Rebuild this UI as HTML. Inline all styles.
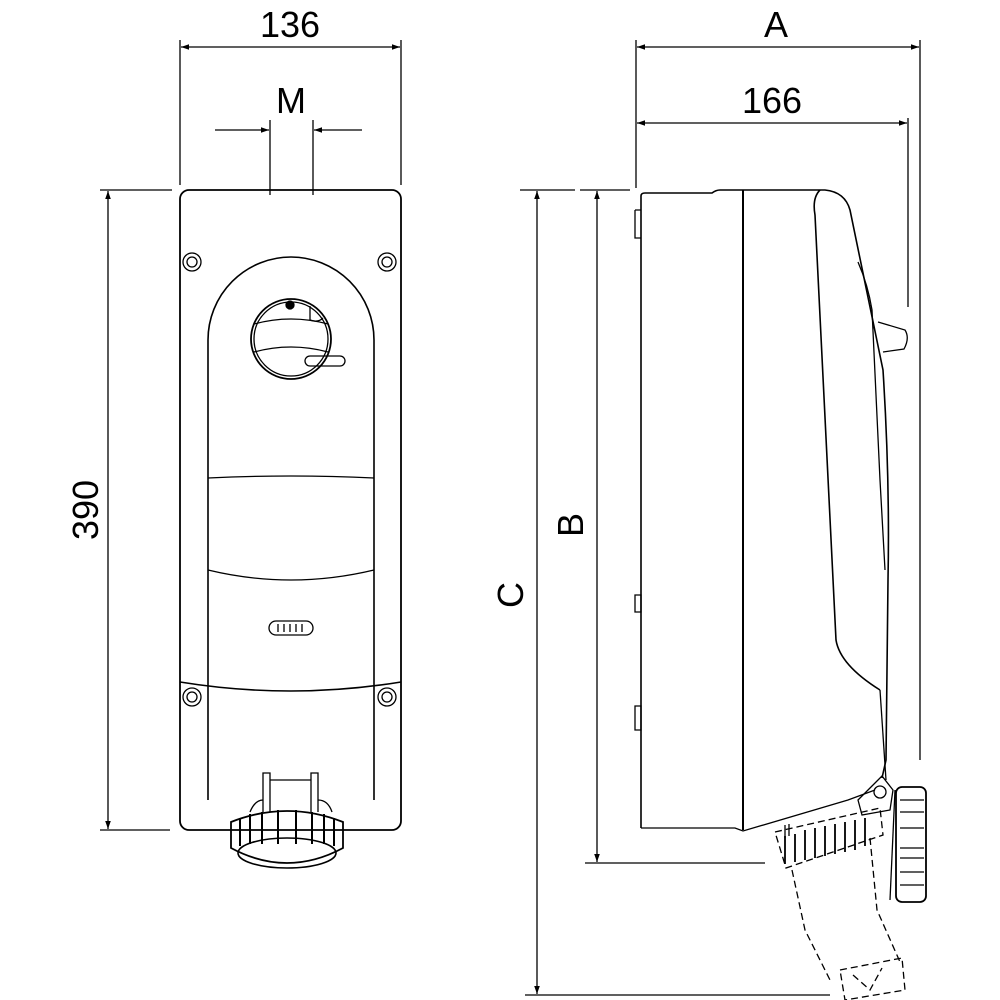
<!DOCTYPE html>
<html><head><meta charset="utf-8"><style>html,body{margin:0;padding:0;background:#fff}svg{display:block}</style></head>
<body>
<svg width="1000" height="1000" viewBox="0 0 1000 1000" xmlns="http://www.w3.org/2000/svg">
<defs>
<marker id="ar" viewBox="0 0 10 10" refX="10" refY="5" markerWidth="10" markerHeight="8" orient="auto-start-reverse" markerUnits="userSpaceOnUse"><path d="M0,1.5 L10,5 L0,8.5 z" fill="#000"/></marker>
</defs>
<g fill="none" stroke="#000" stroke-width="1.3">
<!-- Front view dims -->
<line x1="180" y1="40" x2="180" y2="185"/>
<line x1="401" y1="40" x2="401" y2="185"/>
<line x1="181" y1="47" x2="400" y2="47" marker-start="url(#ar)" marker-end="url(#ar)"/>
<line x1="270" y1="120" x2="270" y2="195"/>
<line x1="313" y1="120" x2="313" y2="195"/>
<line x1="215" y1="130" x2="269" y2="130" marker-end="url(#ar)"/>
<line x1="362" y1="130" x2="314" y2="130" marker-end="url(#ar)"/>
<line x1="100" y1="190" x2="172" y2="190"/>
<line x1="100" y1="830" x2="170" y2="830"/>
<line x1="108" y1="191" x2="108" y2="829" marker-start="url(#ar)" marker-end="url(#ar)"/>
<!-- front plate -->
<rect x="180" y="190" width="221" height="640" rx="9" stroke-width="1.8"/>
<path d="M208,800 L208,340 A83,83 0 0 1 374,340 L374,800" stroke-width="1.6"/>
<path d="M208,478 Q291,474 374,478"/>
<path d="M208,570 Q291,590 374,570"/>
<path d="M180,682 Q291,700 401,682" stroke-width="1.6"/>
<circle cx="192" cy="262" r="9"/><circle cx="192" cy="262" r="5"/>
<circle cx="387" cy="262" r="9"/><circle cx="387" cy="262" r="5"/>
<circle cx="192" cy="697" r="9"/><circle cx="192" cy="697" r="5"/>
<circle cx="387" cy="697" r="9"/><circle cx="387" cy="697" r="5"/>
<!-- knob -->
<circle cx="291" cy="339" r="40" stroke-width="1.8"/>
<circle cx="291" cy="339" r="37"/>
<path d="M254,324 Q291,314 328,324"/>
<path d="M254,352 Q291,342 328,352"/>
<circle cx="290" cy="305" r="4" fill="#000"/>
<path d="M310,306 L310,320 Q318,323 323,318"/>
<rect x="305" y="356" width="40" height="10" rx="5"/>
<!-- indicator -->
<rect x="269" y="621" width="44" height="14" rx="7"/>
<path d="M278,624v8M284,624v8M290,624v8M296,624v8M302,624v8"/>
<!-- socket front -->
<path d="M263,812 L263,773 L270,773 L270,812 M311,812 L311,773 L318,773 L318,812 M270,780 L311,780"/>
<path d="M250,812 Q255,800 263,800 M318,800 Q328,800 332,812"/>
<path d="M231,822 Q287,800 343,822 L343,848 Q287,878 231,848 Z" stroke-width="1.8"/>
<ellipse cx="287" cy="853" rx="49" ry="15" stroke-width="1.6"/>
<path d="M240,818v28M250,814v30M262,812v32M278,810v34M296,810v34M312,812v32M324,814v30M334,818v28" stroke-width="2"/>
</g>
<g font-family="Liberation Sans, sans-serif" font-size="36" fill="#000" text-anchor="middle">
<text x="290" y="37">136</text>
<text x="291" y="113">M</text>
<text x="0" y="0" transform="translate(98,510) rotate(-90)">390</text>
<text x="776" y="37">A</text>
<text x="772" y="113">166</text>
<text x="0" y="0" transform="translate(583,525) rotate(-90)">B</text>
<text x="0" y="0" transform="translate(523,595) rotate(-90)">C</text>
</g>
<g fill="none" stroke="#000" stroke-width="1.3">
<!-- side dims -->
<line x1="636" y1="40" x2="636" y2="188"/>
<line x1="920" y1="40" x2="920" y2="760"/>
<line x1="908" y1="118" x2="908" y2="307"/>
<line x1="637" y1="47" x2="919" y2="47" marker-start="url(#ar)" marker-end="url(#ar)"/>
<line x1="637" y1="123" x2="907" y2="123" marker-start="url(#ar)" marker-end="url(#ar)"/>
<line x1="580" y1="190" x2="630" y2="190"/>
<line x1="520" y1="190" x2="575" y2="190"/>
<line x1="585" y1="863" x2="765" y2="863"/>
<line x1="525" y1="995" x2="830" y2="995"/>
<line x1="597" y1="191" x2="597" y2="862" marker-start="url(#ar)" marker-end="url(#ar)"/>
<line x1="537" y1="191" x2="537" y2="994" marker-start="url(#ar)" marker-end="url(#ar)"/>
<!-- side body -->
<path d="M641,828 L641,196 Q641,193 645,193 L712,193 Q716,190 720,190 L825,190 Q845,192 850,210 L883,370 Q890,480 888,580 L886,760 L882,778" stroke-width="1.6"/>
<line x1="743" y1="190" x2="743" y2="830" stroke-width="2"/>
<path d="M641,828 L735,828 L743,831 L848,800 L875,790"/>
<path d="M635,210 L641,210 M635,210 L635,238 L641,238"/>
<path d="M635,595 L641,595 L641,612 L635,612 Z M635,706 L641,706 L641,730 L635,730 Z"/>
<!-- cover -->
<path d="M820,190 Q812,198 815,215 L836,640 Q840,665 880,690" stroke-width="1.6"/>
<path d="M858,262 Q868,285 872,310 L880,480 L885,570"/>
<path d="M878,322 L905,330 Q910,338 904,349 L883,352"/>
<path d="M880,690 L886,780"/>
<!-- hinge -->
<path d="M858,800 L882,776 L893,790 L890,810 L862,815 Z"/>
<circle cx="880" cy="792" r="6"/>
<!-- ring right -->
<rect x="896" y="787" width="30" height="115" rx="6" stroke-width="1.8"/>
<path d="M900,800h24M900,812h24M900,828h24M900,848h24M900,858h24M900,872h24M900,885h24"/>
<line x1="895" y1="790" x2="890" y2="900"/>
<!-- dashed plug -->
<g stroke-dasharray="7,4">
<path d="M775,832 L880,808 L883,835 L786,868 Z"/>
<path d="M792,870 L805,930 L830,980 M870,838 L877,910 L900,962"/>
<path d="M840,970 L902,958 L905,990 L845,1000 Z"/>
<path d="M853,975 L870,990 L882,968"/>
</g>
<path d="M785,836v28M795,834v28M805,830v30M815,828v30M825,826v30M835,824v30M845,822v30M855,820v30M865,818v28" stroke-width="1.8"/>
<path d="M785,825 L785,838 M789,824 L789,836"/>
</g>
</svg>
</body></html>
